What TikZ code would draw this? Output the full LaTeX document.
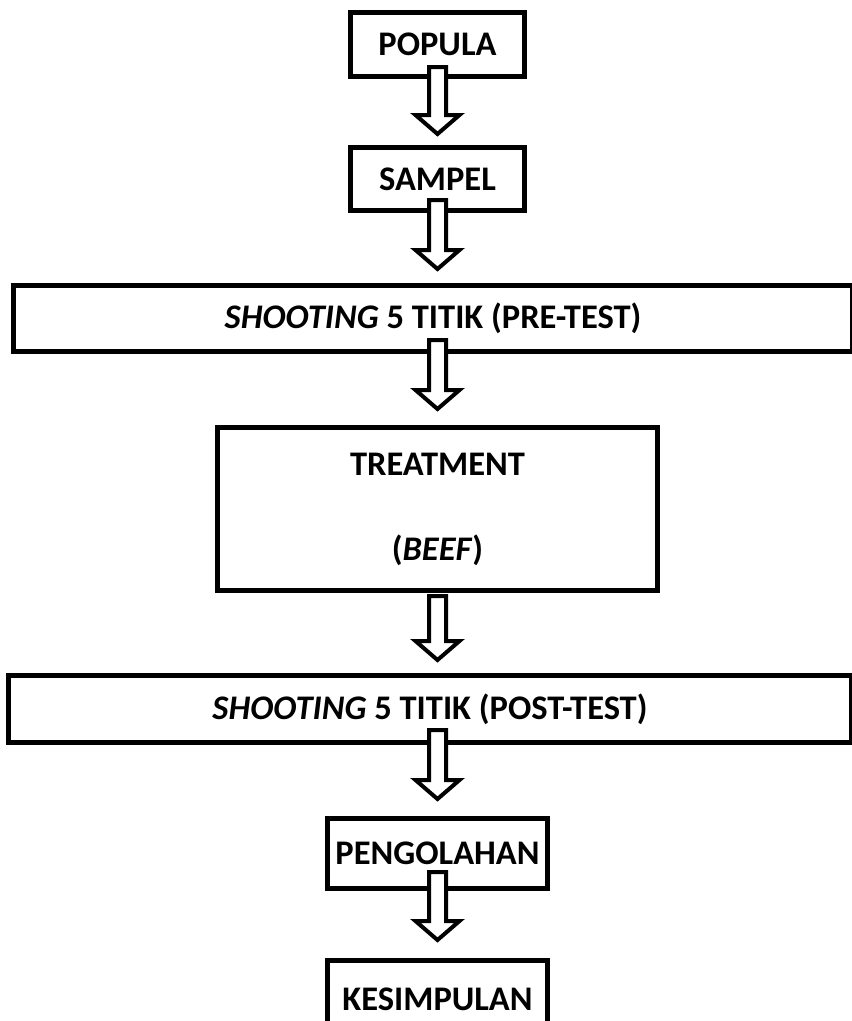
\documentclass[tikz,border=0pt]{standalone}
\usepackage{fontspec}
\setmainfont{Carlito}
\usetikzlibrary{calc}
\tikzset{
  box/.style={draw, line width=5pt, rectangle, inner sep=0pt, fill=white,
    font=\bfseries\fontsize{34.5}{41}\selectfont, text=black},
  blockarrow/.style={draw, fill=white, line width=4pt, line join=miter},
}
% #1 source node, #2 target node, #3 stem top above source bottom, #4 gap of tip above target top
\newcommand\blockarr[4]{%
  \draw[blockarrow] let \p1=($(#1.south)+(0,-#3)$), \p2=($(#2.north)+(0,-#4)$), \p3=(axis) in
   (\x3-8.5pt,\y1) -- (\x3+8.5pt,\y1) -- (\x3+8.5pt,\y2+19pt) -- (\x3+22pt,\y2+19pt)
   -- (\x3,\y2) -- (\x3-22pt,\y2+19pt) -- (\x3-8.5pt,\y2+19pt) -- cycle;
}
\begin{document}
\begin{tikzpicture}[x=1pt,y=-1pt]
\useasboundingbox (0,0) rectangle (852,1021);
\clip (0,0) rectangle (852,1021);
\coordinate (axis) at (437.5,0);
\node[box, minimum width=174pt, minimum height=64pt] (popula) at (437.5,44.5) {POPULA};
\node[box, minimum width=174pt, minimum height=63pt] (sampel) at (437.5,179) {SAMPEL};
\node[box, minimum width=839pt, minimum height=66pt] (pre) at (433,318.5) {\textit{SHOOTING} 5 TITIK (PRE-TEST)};
\node[box, minimum width=440pt, minimum height=163pt, align=center,
  font=\bfseries\fontsize{34.5}{85}\selectfont] (treat) at (437.5,509) {TREATMENT\\(\textit{BEEF})};
\node[box, minimum width=843pt, minimum height=67pt] (post) at (430,709) {\textit{SHOOTING} 5 TITIK (POST-TEST)};
\node[box, minimum width=220pt, minimum height=70pt] (peng) at (437.5,853.5) {PENGOLAHAN};
\node[box, minimum width=220pt, minimum height=77pt] (kes) at (437.5,999) {KESIMPULAN};
\blockarr{popula}{sampel}{12}{11}
\blockarr{sampel}{pre}{13}{14}
\blockarr{pre}{treat}{14}{16}
\blockarr{treat}{post}{-3}{13}
\blockarr{post}{peng}{15}{17}
\blockarr{peng}{kes}{19}{18}
\end{tikzpicture}
\end{document}
